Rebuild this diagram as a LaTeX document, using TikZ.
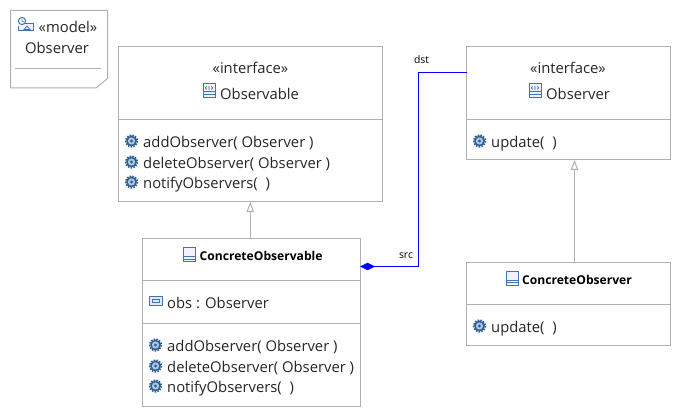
\documentclass[tikz,border=0pt]{standalone}
\usepackage{fontspec}
\setmainfont{Open Sans}
\usetikzlibrary{arrows.meta}
\definecolor{boxgray}{HTML}{B0B0B0}
\definecolor{iconblue}{HTML}{3F74AE}
\definecolor{gearblue}{HTML}{2F5F97}
\tikzset{
  box/.style={draw=boxgray, fill=white, line width=1pt, anchor=north west, inner sep=0pt, outer sep=0pt},
  lbl/.style={anchor=base west, inner sep=0pt, yshift=-0.8pt, font=\fontsize{14.8}{16}\selectfont, text=black!85},
  clbl/.style={lbl, anchor=base},
  blbl/.style={lbl, font=\fontsize{12.1}{14}\selectfont\bfseries, text=black},
  tinylbl/.style={anchor=base, inner sep=0pt, yshift=-0.8pt, font=\fontsize{10.4}{12}\selectfont},
  rule/.style={draw=boxgray, line width=1pt},
  realize/.style={draw=boxgray, line width=1pt, -{Triangle[open, fill=white, length=10pt, width=7.5pt]}},
  assoc/.style={draw=blue, line width=1.2pt, {Diamond[fill=blue, length=15pt, width=7.5pt]}-},
  opicon/.pic={
    \fill[gearblue] (0,0) circle (5.4);
    \draw[gearblue, line width=1.6pt, dash pattern=on 1.6pt off 1.2pt] (0,0) circle (5.8);
    \fill[white!60!iconblue] (0,0) circle (3.6);
    \fill[gearblue] (0,0) circle (1.6);
  },
  classicon/.pic={
    \draw[iconblue, fill=blue!5, line width=1pt] (0,0) rectangle (12,14);
    \draw[iconblue, line width=1pt] (0,9) -- (12,9) (0,11.5) -- (12,11.5);
  },
  ifaceicon/.pic={
    \draw[iconblue, fill=blue!5, line width=1pt] (0,0) rectangle (12,14);
    \draw[iconblue, line width=1pt] (0,8) -- (12,8) (0,11) -- (12,11);
    \draw[gearblue, line width=.7pt] (6,1.8) -- (6,6) (3.6,2.4) -- (2.4,3.9) -- (3.6,5.4) (8.4,2.4) -- (9.6,3.9) -- (8.4,5.4);
  },
  attricon/.pic={
    \draw[iconblue, fill=blue!10, line width=1pt] (0,0) rectangle (12.5,8);
    \draw[iconblue, line width=1pt] (2.5,2.2) rectangle (10,5.8);
  },
  modelicon/.pic={
    \draw[iconblue, fill=blue!5, line width=1pt] (2,7) -- (15,7) -- (15,14) -- (0,14) -- (0,9);
    \draw[iconblue, fill=white, line width=1pt] (4,4) circle (3.6);
    \draw[iconblue, line width=.7pt] (4,2) -- (4,4) -- (5.8,5);
    \draw[iconblue, line width=.8pt] (6,12.5) -- (9,9) -- (12,12.5) -- cycle;
  }
}
\begin{document}
\begin{tikzpicture}[x=1pt, y=-1pt, line join=miter]
\useasboundingbox[fill=white] (0,0) rectangle (681,417);
% model note
\draw[boxgray, line width=1pt, fill=white] (10.5,10.5) -- (107.5,10.5) -- (107.5,78.5) -- (96,88) -- (10.5,88) -- cycle;
\draw[rule] (15,68.5) -- (100.5,68.5);
\pic at (18,17) {modelicon};
\node[lbl] (modeltag) at (38.5,32) {«model»};
\node[clbl] (modelname) at (57,53) {Observer};
% boxes
\node[box, minimum width=263.5pt, minimum height=155.5pt] (Observable) at (118.5,46.5) {};
\node[box, minimum width=204pt, minimum height=113.5pt] (Observer) at (466.5,46.5) {};
\node[box, minimum width=217.5pt, minimum height=167.5pt] (ConcreteObservable) at (142.5,238.5) {};
\node[box, minimum width=204pt, minimum height=83pt] (ConcreteObserver) at (466.5,262.5) {};
\draw[rule] (118.5,119.5) -- (382,119.5);
\draw[rule] (466.5,119.5) -- (670.5,119.5);
\draw[rule] (142.5,280.5) -- (360,280.5) (142.5,323.5) -- (360,323.5);
\draw[rule] (466.5,304.5) -- (670.5,304.5);
% Observable
\node[clbl] (ifaceA) at (250.5,73) {«interface»};
\pic at (203,84) {ifaceicon};
\node[lbl] (nameA) at (220,99) {Observable};
\foreach \y/\t [count=\i] in {147/addObserver( Observer ),168/deleteObserver( Observer ),188/notifyObservers(\ \ )} {
  \pic at (131.5,\y-6) {opicon};
  \node[lbl] (opA\i) at (143,\y) {\t};
}
% Observer
\node[clbl] (ifaceB) at (568,73) {«interface»};
\pic at (529,84) {ifaceicon};
\node[lbl] (nameB) at (546,99) {Observer};
\pic at (479.5,141) {opicon};
\node[lbl] (opB) at (491,147) {update(\ \ )};
% ConcreteObservable
\pic at (183,248) {classicon};
\node[blbl] (nameC) at (199.5,260) {ConcreteObservable};
\pic at (149.5,297) {attricon};
\node[lbl] (attrC) at (167,308) {obs : Observer};
\foreach \y/\t [count=\i] in {351/addObserver( Observer ),372/deleteObserver( Observer ),392/notifyObservers(\ \ )} {
  \pic at (155.5,\y-6) {opicon};
  \node[lbl] (opC\i) at (167,\y) {\t};
}
% ConcreteObserver
\pic at (506,271.5) {classicon};
\node[blbl] (nameD) at (522,284) {ConcreteObserver};
\pic at (479.5,326) {opicon};
\node[lbl] (opD) at (491,332) {update(\ \ )};
% connectors
\draw[realize] (ConcreteObservable.north -| Observable.south) -- (Observable.south);
\draw[realize] ([xshift=6pt]ConcreteObserver.north) -- ([xshift=6pt]Observer.south);
\coordinate (bend) at (418.5,72.5);
\draw[assoc] ([yshift=55.75pt]ConcreteObservable.east) -| (bend) -- (bend -| Observer.west);
\node[tinylbl] (dst) at (421.5,63) {dst};
\node[tinylbl] (src) at (406,258) {src};
\end{tikzpicture}
\end{document}
